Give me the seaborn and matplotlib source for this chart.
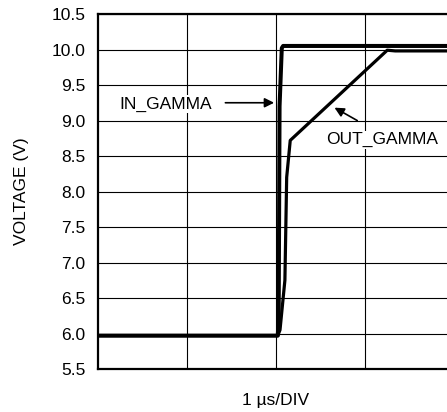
import pandas as pd
import seaborn as sns
import matplotlib.pyplot as plt
import numpy as np

# time in divisions (1 us/DIV), voltage in V
in_time = [0.0, 2.02, 2.03, 2.04, 2.065, 2.08, 4.0]
in_volt = [5.97, 5.97, 6.2, 9.2, 10.02, 10.05, 10.05]

out_time = [0.0, 2.02, 2.045, 2.10, 2.12, 2.16, 3.25, 3.34, 4.0]
out_volt = [5.97, 5.97, 6.05, 6.75, 8.2, 8.72, 9.99, 9.98, 9.98]

y_ticks = [5.5, 6.0, 6.5, 7.0, 7.5, 8.0, 8.5, 9.0, 9.5, 10.0, 10.5]

df_in = pd.DataFrame({'time': in_time, 'voltage': in_volt, 'signal': 'IN_GAMMA'})
df_out = pd.DataFrame({'time': out_time, 'voltage': out_volt, 'signal': 'OUT_GAMMA'})

sns.set_style('white')
plt.rcParams['font.family'] = ['Liberation Sans', 'DejaVu Sans']
plt.rcParams['text.color'] = 'black'
plt.rcParams['axes.labelcolor'] = 'black'
plt.rcParams['xtick.color'] = 'black'
plt.rcParams['ytick.color'] = 'black'

fig = plt.figure(figsize=(4.47, 4.12), dpi=100)
ax = fig.add_axes([98 / 447, 1 - 369 / 412, 356 / 447, 355 / 412])

sns.lineplot(data=df_out, x='time', y='voltage', color='black', linewidth=2.3,
             sort=False, estimator=None, ax=ax)
sns.lineplot(data=df_in, x='time', y='voltage', color='black', linewidth=2.9,
             sort=False, estimator=None, ax=ax)

ax.set_xlim(0, 4)
ax.set_ylim(5.5, 10.5)
ax.set_xticks([1, 2, 3])
ax.set_xticklabels([])
ax.set_yticks(y_ticks)
ax.set_yticklabels([f'{v:.1f}' for v in y_ticks], fontsize=12.5)
ax.tick_params(axis='both', length=0, pad=9)
ax.grid(True, color='black', linewidth=0.8)

for side in ['top', 'left', 'bottom']:
    ax.spines[side].set_color('black')
    ax.spines[side].set_linewidth(1.6)
ax.spines['right'].set_visible(False)

ax.set_xlabel('1 \u00b5s/DIV', fontsize=12.5, labelpad=8)
ax.set_ylabel('VOLTAGE (V)', fontsize=12.5, labelpad=16)

ax.text(0.245, 9.23, 'IN_GAMMA', fontsize=12.5, va='center', ha='left',
        bbox=dict(facecolor='white', edgecolor='none', pad=1))
ax.annotate('', xy=(2.01, 9.25), xytext=(1.40, 9.25),
            arrowprops=dict(arrowstyle='-|>', color='black', lw=1.2, mutation_scale=14))

ax.text(2.56, 8.73, 'OUT_GAMMA', fontsize=12.5, va='center', ha='left',
        bbox=dict(facecolor='white', edgecolor='none', pad=1))
ax.annotate('', xy=(2.63, 9.20), xytext=(2.94, 8.98),
            arrowprops=dict(arrowstyle='-|>', color='black', lw=1.2, mutation_scale=14))

plt.savefig('out.png', dpi=100)
plt.close()
